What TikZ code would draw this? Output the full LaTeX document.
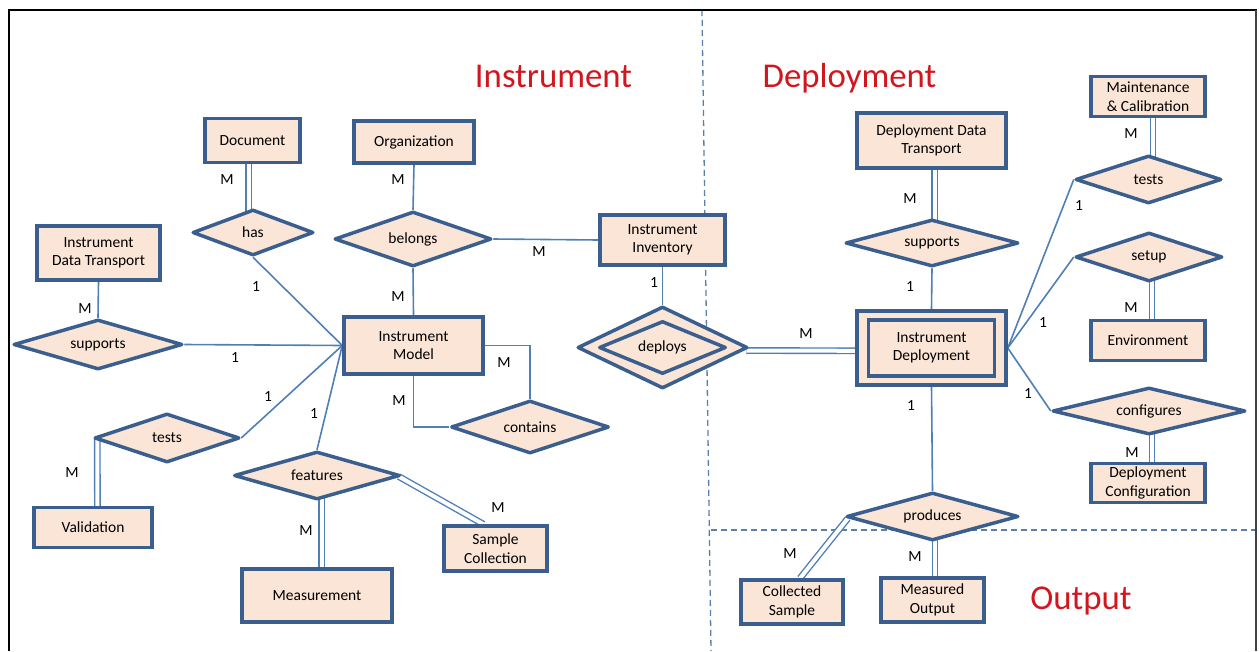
\documentclass[tikz,border=0pt]{standalone}
\usepackage{fontspec}
\setmainfont{Carlito}
\usetikzlibrary{shapes.geometric,calc,backgrounds}
\definecolor{erfill}{HTML}{FBE5D6}
\definecolor{erborder}{HTML}{3A5F8E}
\definecolor{erline}{HTML}{4F7FB5}
\definecolor{titlered}{HTML}{D0161E}
\definecolor{divider}{HTML}{5A80A8}
\begin{document}
\begin{tikzpicture}[x=1pt,y=-1pt,
  every node/.style={font=\fontsize{15.5}{18.5}\selectfont},
  entity/.style={rectangle, draw=erborder, fill=erfill, line width=3.5pt, align=center, inner sep=0pt},
  rel/.style={diamond, aspect=3, draw=erborder, fill=erfill, line width=3.5pt, inner sep=0pt, line join=round},
  conn/.style={draw=erline, line width=1.6pt},
  dconn/.style={draw=erline, double=white, double distance=4pt, line width=1.4pt},
  card/.style={font=\fontsize{15.5}{18}\selectfont, inner sep=0pt},
  heading/.style={font=\fontsize{34.8}{40}\selectfont, text=titlered, anchor=base, inner sep=0pt},
]
\useasboundingbox (0,0) rectangle (1259,651);

% outer frame
\draw[black, line width=2pt] (9,651) -- (9,10) -- (1257,10);
\draw[black!75, line width=1.2pt] (1256,10) -- (1256,651);

% section titles
\node[heading] (tinst) at (553.5,87) {Instrument};
\node[heading] (tdep) at (849.5,87) {Deployment};
\node[heading] (tout) at (1081,609) {Output};

% entities
\node[entity, minimum width=95pt, minimum height=44pt] (doc) at (252.5,140.5) {Document};
\node[entity, minimum width=120pt, minimum height=42pt] (org) at (414,142) {Organization};
\node[entity, minimum width=123pt, minimum height=54pt] (idt) at (98.5,253) {Instrument\\Data Transport};
\node[entity, minimum width=139pt, minimum height=57pt] (model) at (413.5,345.5) {Instrument\\Model};
\node[entity, minimum width=125pt, minimum height=50pt] (inv) at (662.5,240) {Instrument\\Inventory};
\node[entity, minimum width=118pt, minimum height=40pt] (valid) at (93,527.5) {Validation};
\node[entity, minimum width=150pt, minimum height=53pt] (meas) at (317,595.5) {Measurement};
\node[entity, minimum width=103pt, minimum height=45pt] (samp) at (495.5,548.5) {Sample\\Collection};
\node[entity, minimum width=149pt, minimum height=55pt] (ddt) at (931.5,140.5) {Deployment Data\\Transport};
\node[entity, minimum width=114pt, minimum height=40pt] (mc) at (1148,96.5) {Maintenance\\\& Calibration};
\node[entity, minimum width=149pt, minimum height=74pt] (idep) at (931.5,348) {};
\node[entity, minimum width=126pt, minimum height=56pt] (idepin) at (idep.center) {Instrument\\Deployment};
\node[entity, minimum width=114pt, minimum height=40pt] (env) at (1148,340.5) {Environment};
\node[entity, minimum width=114pt, minimum height=39pt] (dc) at (1148,483) {Deployment\\Configuration};
\node[entity, minimum width=102pt, minimum height=44pt] (cs) at (792,602) {Collected\\Sample};
\node[entity, minimum width=103pt, minimum height=44pt] (mo) at (932.5,600) {Measured\\Output};

% relationships
\node[rel, minimum width=121pt, minimum height=46pt] (has) at (253,232.5) {has};
\node[rel, minimum width=157pt, minimum height=55pt] (belongs) at (413,239) {belongs};
\node[rel, minimum width=169pt, minimum height=50pt] (supL) at (98,344.5) {supports};
\node[rel, minimum width=145pt, minimum height=49pt] (testsL) at (167,438) {tests};
\node[rel, minimum width=166pt, minimum height=48pt] (features) at (317,475.5) {features};
\node[rel, minimum width=158pt, minimum height=53pt] (contains) at (530,427) {contains};
\node[rel, minimum width=170pt, minimum height=82pt] (deploys) at (662.5,347.5) {};
\node[rel, minimum width=127pt, minimum height=53pt] (deploysin) at (deploys.center) {deploys};
\node[rel, minimum width=146pt, minimum height=48pt] (testsR) at (1148.5,179.5) {tests};
\node[rel, minimum width=173pt, minimum height=47pt] (supR) at (932,243) {supports};
\node[rel, minimum width=147pt, minimum height=49pt] (setup) at (1149,257) {setup};
\node[rel, minimum width=193pt, minimum height=47pt] (configures) at (1149,411) {configures};
\node[rel, minimum width=172pt, minimum height=48pt] (produces) at (932.5,516.5) {produces};

% cardinalities
\node[card] (c1) at (227,180) {M};
\node[card] (c2) at (398,180) {M};
\node[card] (c3) at (398,297) {M};
\node[card] (c4) at (256,287) {1};
\node[card] (c5) at (85,309) {M};
\node[card] (c6) at (235,358) {1};
\node[card] (c7) at (539,252) {M};
\node[card] (c8) at (504,363) {M};
\node[card] (c9) at (268,397) {1};
\node[card] (c10) at (314,414) {1};
\node[card] (c11) at (399,401) {M};
\node[card] (c12) at (72,473) {M};
\node[card] (c13) at (306,531) {M};
\node[card] (c14) at (498,508) {M};
\node[card] (c15) at (654,283) {1};
\node[card] (c16) at (806,334) {M};
\node[card] (c17) at (910,199) {M};
\node[card] (c18) at (1131,134) {M};
\node[card] (c19) at (1079,206) {1};
\node[card] (c20) at (910,287) {1};
\node[card] (c21) at (1043,323) {1};
\node[card] (c22) at (1028,394) {1};
\node[card] (c23) at (911,406) {1};
\node[card] (c24) at (1131,308) {M};
\node[card] (c25) at (1132,453) {M};
\node[card] (c26) at (790,554) {M};
\node[card] (c27) at (915,557) {M};

\begin{scope}[on background layer]
  % section dividers
  \draw[divider, line width=1.3pt, dash pattern=on 6pt off 4pt] (702,10) -- (711,651);
  \draw[divider, line width=1.3pt, dash pattern=on 6pt off 4pt] (711,530) -- (1257,530);

  % single connectors
  \draw[conn] (idt.south) -- (supL.north);
  \draw[conn] (has.south) -- (model.west);
  \draw[conn] (supL.east) -- (model.west);
  \draw[conn] (testsL.east) -- (model.west);
  \draw[conn] (features.north) -- (model.west);
  \draw[conn] (org.south) -- (belongs.north);
  \draw[conn] (belongs.south) -- (model.north);
  \draw[conn] (belongs.east) -- (inv.west);
  \draw[conn] (model.east) -| (contains.north);
  \draw[conn] (model.south) |- (contains.west);
  \draw[conn] (inv.south) -- (deploys.north);
  \draw[conn] (supR.south) -- (idep.north);
  \draw[conn] (idep.east) -- (testsR.west);
  \draw[conn] (idep.east) -- (setup.west);
  \draw[conn] (idep.east) -- (configures.west);
  \draw[conn] (idep.south) -- (produces.north);

  % double connectors (total participation)
  \draw[dconn] ($(doc.center)+(-4,0)$) -- ($(has.center)+(-4.5,0)$);
  \draw[dconn] ($(valid.center)+(4.5,0)$) -- ($(testsL.west)+(4.5,1)$);
  \draw[dconn] ($(features.center)+(4.5,0)$) -- ($(meas.center)+(4.5,0)$);
  \draw[dconn] ($(features.east)+(-3,1)$) -- ($(samp.north)+(-12,0)$);
  \draw[dconn] ($(ddt.center)+(3,0)$) -- ($(supR.center)+(2.5,0)$);
  \draw[dconn] ($(mc.center)+(5,0)$) -- ($(testsR.center)+(4.5,0)$);
  \draw[dconn] ($(setup.center)+(3,0)$) -- ($(env.center)+(4,0)$);
  \draw[dconn] ($(configures.center)+(3,0)$) -- ($(dc.center)+(4,0)$);
  \draw[dconn] ($(produces.center)+(2.5,0)$) -- ($(mo.center)+(2.5,0)$);
  \draw[dconn] ($(produces.west)+(3,2)$) -- ($(cs.north)+(8,0)$);
  \draw[dconn] ($(deploys.east)+(-3,3)$) -- ($(idep.center)+(0,3)$);
\end{scope}
\end{tikzpicture}
\end{document}
